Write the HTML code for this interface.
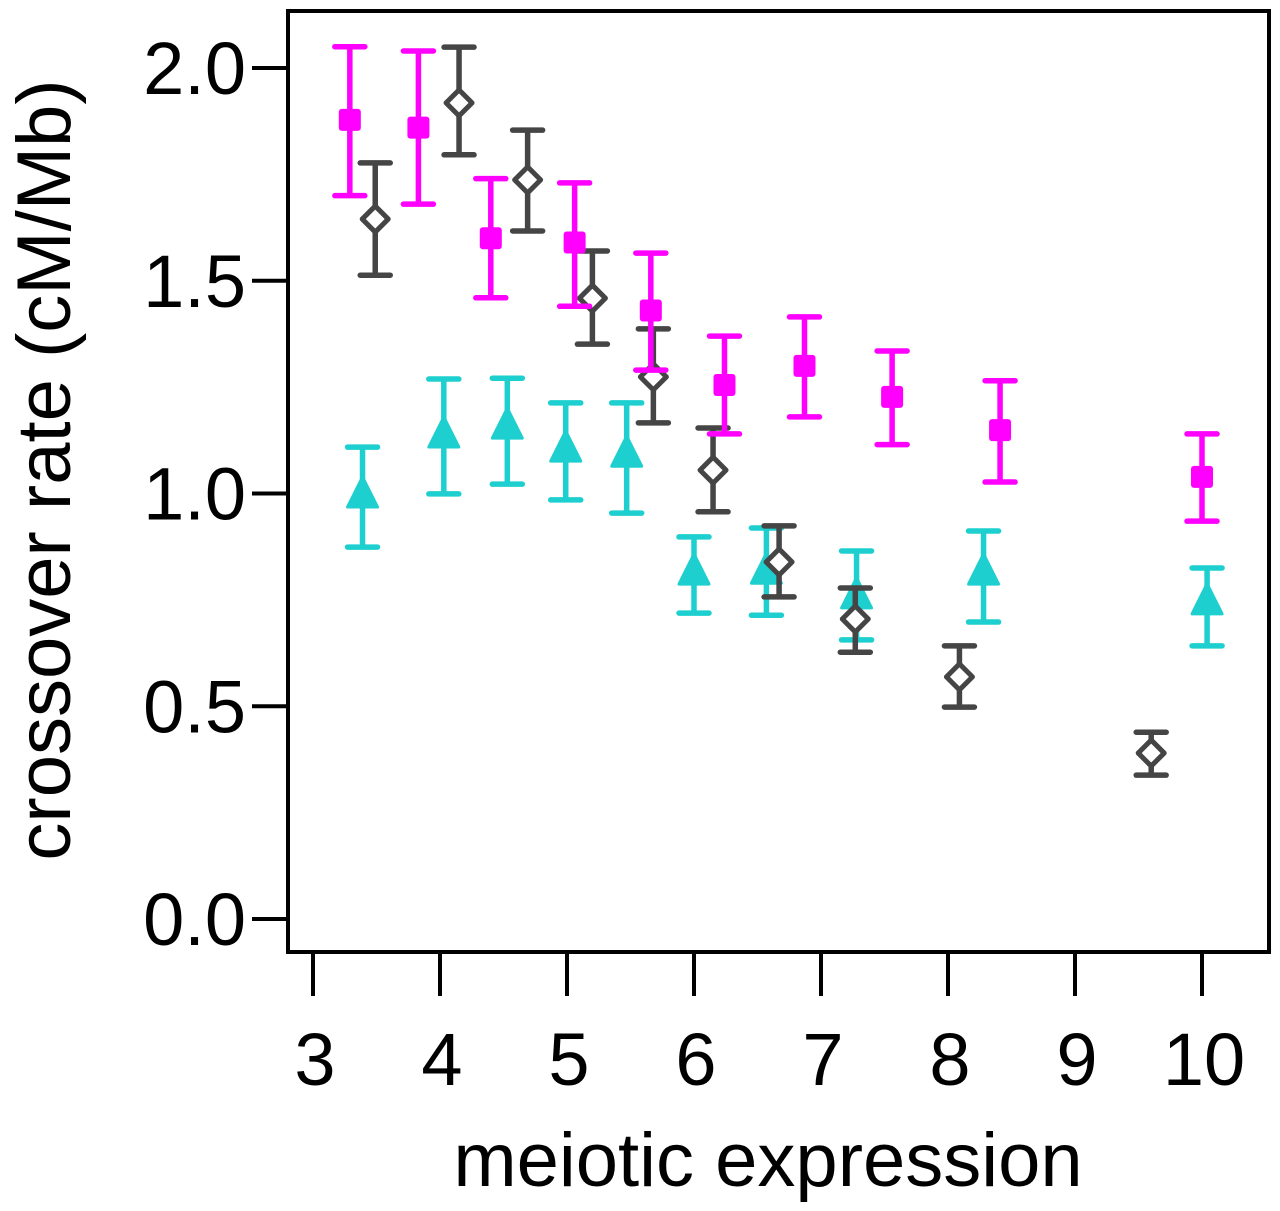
<!DOCTYPE html>
<html><head><meta charset="utf-8"><style>
html,body{margin:0;padding:0;background:#fff;}
svg{display:block;font-family:"Liberation Sans",Arial,sans-serif;}
</style></head><body>
<svg id="chart" width="1280" height="1211" viewBox="0 0 1280 1211" xmlns="http://www.w3.org/2000/svg">
<rect x="288" y="11" width="981" height="941" fill="none" stroke="#000" stroke-width="4"/>
<g id="axes"></g>
<g id="marks"></g>
<text transform="translate(70,470) rotate(-90)" text-anchor="middle" font-size="76" fill="#000">crossover rate (cM/Mb)</text>
<text x="768" y="1186" text-anchor="middle" font-size="76" fill="#000">meiotic expression</text>
</svg>
<script>
const xTicks=[3,4,5,6,7,8,9,10];
const yTicks=[0.0,0.5,1.0,1.5,2.0];
const yTickLabels=["0.0","0.5","1.0","1.5","2.0"];
// magenta squares
const magX=[3.29,3.83,4.40,5.06,5.66,6.24,6.87,7.56,8.41,10.0];
const magY=[1.878,1.86,1.60,1.59,1.43,1.255,1.30,1.227,1.149,1.039];
const magHi=[2.05,2.04,1.74,1.73,1.565,1.37,1.415,1.335,1.265,1.14];
const magLo=[1.70,1.68,1.46,1.44,1.29,1.14,1.18,1.115,1.027,0.935];
// gray diamonds
const grayX=[3.49,4.15,4.69,5.20,5.68,6.15,6.67,7.27,8.09,9.60];
const grayY=[1.645,1.918,1.737,1.459,1.274,1.055,0.839,0.705,0.569,0.39];
const grayHi=[1.777,2.049,1.854,1.57,1.387,1.154,0.924,0.778,0.642,0.439];
const grayLo=[1.513,1.796,1.617,1.351,1.166,0.957,0.757,0.627,0.498,0.338];
// cyan triangles
const cyanX=[3.39,4.03,4.53,4.99,5.47,6.0,6.57,7.28,8.28,10.04];
const cyanY=[0.994,1.135,1.156,1.102,1.09,0.813,0.815,0.757,0.813,0.743];
const cyanHi=[1.109,1.269,1.271,1.213,1.213,0.898,0.919,0.865,0.912,0.825];
const cyanLo=[0.874,0.999,1.022,0.985,0.954,0.719,0.714,0.656,0.698,0.642];

const NS="http://www.w3.org/2000/svg";
const sx=v=>313+(v-3)*127;
const sy=v=>919-v*425.5;
const axes=document.getElementById('axes');
const marks=document.getElementById('marks');
function mk(tag,attrs,parent){const e=document.createElementNS(NS,tag);for(const k in attrs)e.setAttribute(k,attrs[k]);parent.appendChild(e);return e;}

xTicks.forEach((t,i)=>{
  const l=mk('line',{x1:sx(t),x2:sx(t),y1:954,y2:996,stroke:'#000','stroke-width':4},axes);
  
  
  const tx=mk('text',{x:sx(t)+2,y:1085,'text-anchor':'middle','font-size':74,fill:'#000'},axes);
  tx.textContent=String(t);
  
  
});
yTicks.forEach((t,i)=>{
  const l=mk('line',{x1:252,x2:288,y1:sy(t),y2:sy(t),stroke:'#000','stroke-width':4},axes);
  
  
  const tx=mk('text',{x:246,y:sy(t)+26,'text-anchor':'end','font-size':74,fill:'#000'},axes);
  tx.textContent=yTickLabels[i];
  
  
});

function series(name,X,Y,Hi,Lo,color,shape){
  const g=mk('g',{},marks);
  
  
  X.forEach((x,i)=>{
    const cx=sx(x),cy=sy(Y[i]),yh=sy(Hi[i]),yl=sy(Lo[i]);
    const eb=mk('path',{d:`M${cx},${yh}V${yl}M${cx-15},${yh}H${cx+15}M${cx-15},${yl}H${cx+15}`,stroke:color,'stroke-width':5.5,'stroke-linecap':'round',fill:'none'},g);
    
    
    let m;
    if(shape==='square'){
      m=mk('rect',{x:cx-11,y:cy-11,width:22,height:22,rx:3,fill:color},g);
    }else if(shape==='diamond'){
      m=mk('path',{d:`M${cx},${cy-13}L${cx+13},${cy}L${cx},${cy+13}L${cx-13},${cy}Z`,fill:'#fff',stroke:color,'stroke-width':5,'stroke-linejoin':'round'},g);
    }else{
      m=mk('path',{d:`M${cx},${cy-19}L${cx+15},${cy+11}L${cx-15},${cy+11}Z`,fill:color,stroke:color,'stroke-width':3,'stroke-linejoin':'round'},g);
    }
    
    
  });
}
series('cyan-triangle',cyanX,cyanY,cyanHi,cyanLo,'#1ecfcf','triangle');
series('gray-diamond',grayX,grayY,grayHi,grayLo,'#454545','diamond');
series('magenta-square',magX,magY,magHi,magLo,'#ff00ff','square');
</script>
</body></html>
